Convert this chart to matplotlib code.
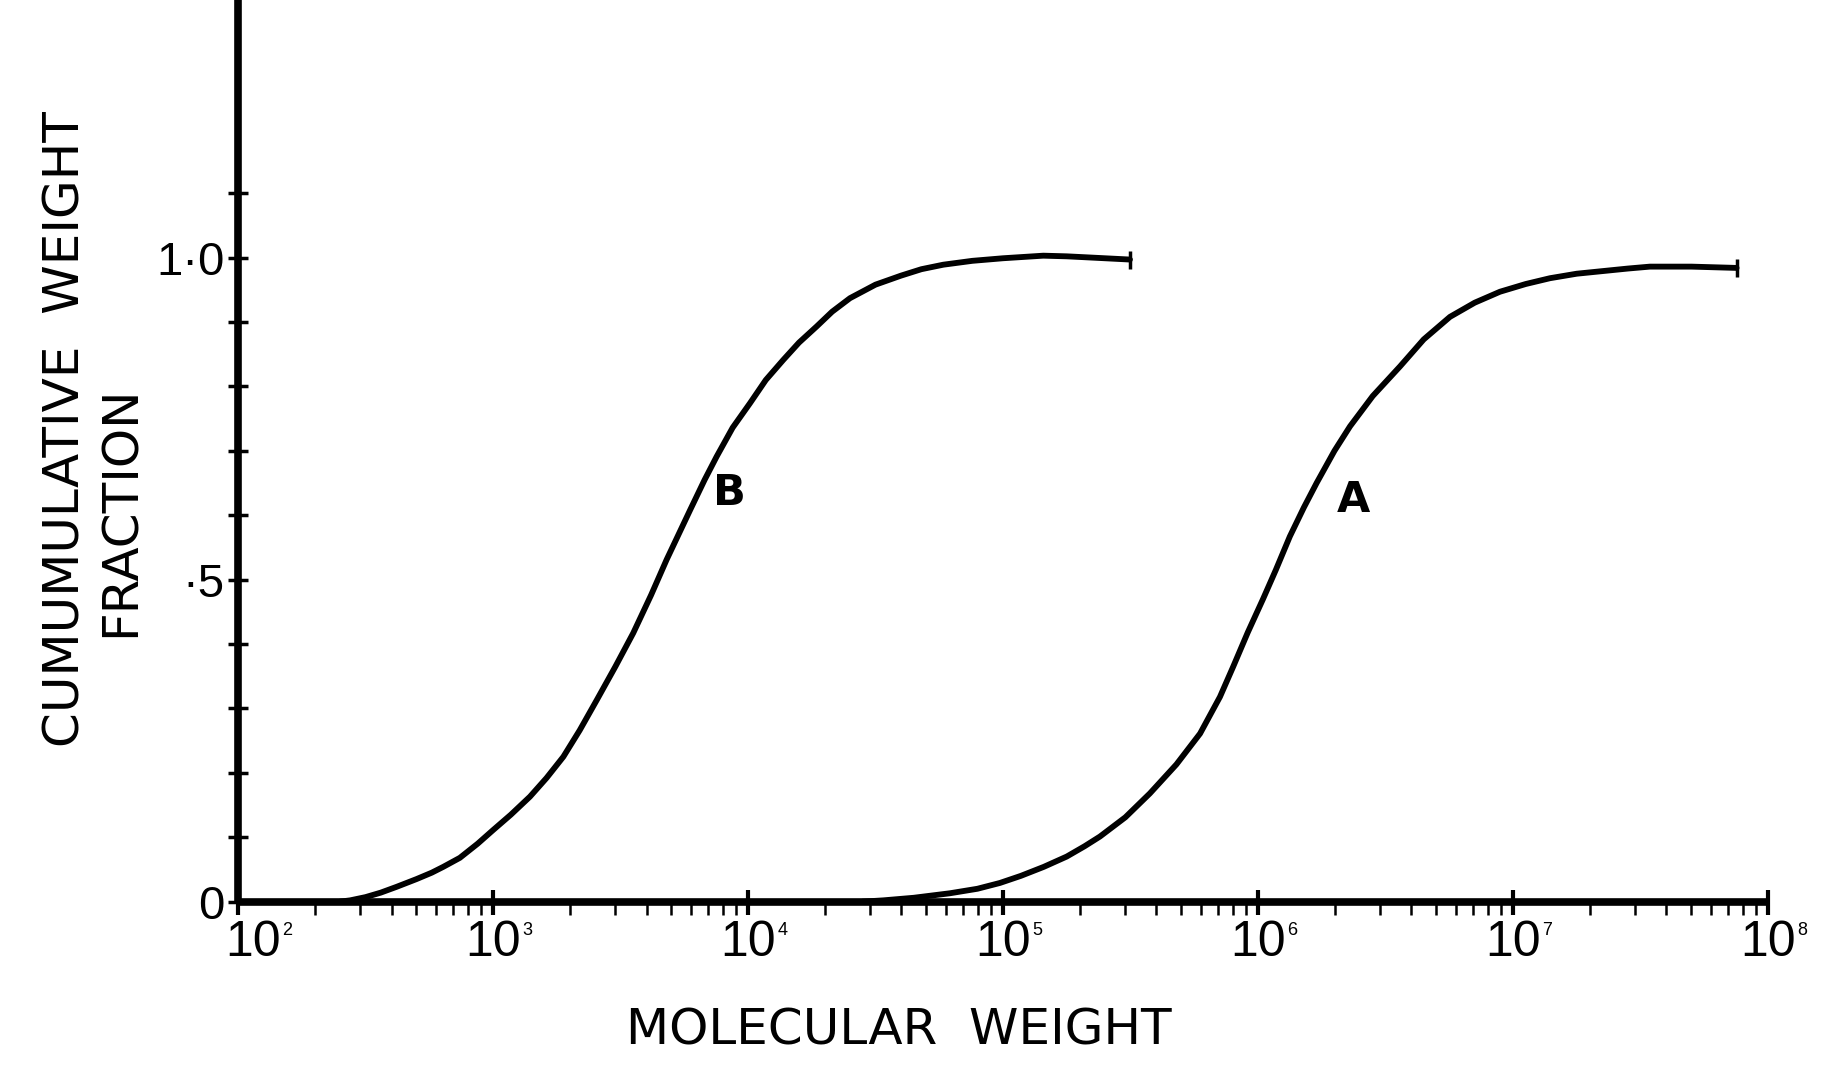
import numpy as np
import matplotlib
matplotlib.use("Agg")
import matplotlib.pyplot as plt
from matplotlib.ticker import FixedLocator, FixedFormatter, LogLocator, NullFormatter

plt.rcParams['font.family'] = ['DejaVu Sans']

# Kurve B (log10 des Molekulargewichts, kumulativer Gewichtsanteil)
log_mw_b = [2.40, 2.44, 2.50, 2.56, 2.622, 2.70, 2.76, 2.805, 2.87, 2.94,
            3.00, 3.07, 3.145, 3.21, 3.276, 3.34, 3.407, 3.48, 3.55, 3.62,
            3.681, 3.73, 3.773, 3.83, 3.877, 3.94, 4.008, 4.07, 4.138, 4.20,
            4.269, 4.33, 4.40, 4.50, 4.60, 4.68, 4.766, 4.88, 5.00, 5.158,
            5.25, 5.35, 5.498]
frac_b = [0.0, 0.002, 0.007, 0.014, 0.023, 0.035, 0.045, 0.054, 0.068, 0.090,
          0.111, 0.135, 0.163, 0.192, 0.225, 0.266, 0.313, 0.365, 0.417, 0.476,
          0.531, 0.572, 0.608, 0.655, 0.691, 0.736, 0.774, 0.810, 0.841, 0.868,
          0.893, 0.916, 0.937, 0.958, 0.972, 0.982, 0.989, 0.995, 0.999, 1.003,
          1.002, 1.000, 0.997]

# Kurve A
log_mw_a = [4.45, 4.531, 4.65, 4.792, 4.90, 4.988, 5.07, 5.16, 5.25, 5.32,
            5.38, 5.48, 5.576, 5.68, 5.773, 5.851, 5.903, 5.96, 6.02, 6.07,
            6.125, 6.18, 6.23, 6.30, 6.361, 6.45, 6.557, 6.65, 6.753, 6.85,
            6.949, 7.05, 7.145, 7.25, 7.35, 7.45, 7.537, 7.70, 7.877]
frac_a = [0.0, 0.002, 0.006, 0.013, 0.020, 0.029, 0.040, 0.054, 0.070, 0.086,
          0.101, 0.131, 0.168, 0.213, 0.261, 0.318, 0.365, 0.418, 0.470, 0.515,
          0.567, 0.612, 0.650, 0.700, 0.738, 0.785, 0.831, 0.873, 0.908, 0.930,
          0.947, 0.959, 0.968, 0.975, 0.979, 0.983, 0.986, 0.986, 0.984]

decades = [2, 3, 4, 5, 6, 7, 8]
y_ticks = [0.0, 0.1, 0.2, 0.3, 0.4, 0.5, 0.6, 0.7, 0.8, 0.9, 1.0, 1.1]
y_labels = ['0', '', '', '', '', '·5', '', '', '', '', '1·0', '']

mw_b = 10 ** np.array(log_mw_b)
mw_a = 10 ** np.array(log_mw_a)

fig = plt.figure(figsize=(18.42, 10.78), dpi=100)
ax = fig.add_axes([0.1292, 0.1636, 0.8306, 0.8364])

ax.plot(mw_b, frac_b, color='black', lw=4.2, solid_capstyle='round', solid_joinstyle='round')
ax.plot(mw_a, frac_a, color='black', lw=4.2, solid_capstyle='round', solid_joinstyle='round')
# kleine Endstriche
ax.plot(mw_b[-1], frac_b[-1], marker='|', ms=13, mew=2.5, color='black')
ax.plot(mw_a[-1], frac_a[-1], marker='|', ms=13, mew=2.5, color='black')

ax.text(10 ** 3.929, 0.635, 'B', fontsize=31, fontweight='bold', ha='center', va='center')
ax.text(10 ** 6.374, 0.624, 'A', fontsize=31, fontweight='bold', ha='center', va='center')

ax.set_xscale('log')
ax.set_xlim(1e2, 1e8)
ax.set_ylim(0, 1.40)

for s in ['top', 'right']:
    ax.spines[s].set_visible(False)
for s in ['left', 'bottom']:
    ax.spines[s].set_linewidth(5.5)
    ax.spines[s].set_capstyle('butt')

ax.xaxis.set_major_locator(FixedLocator([10.0 ** d for d in decades]))
ax.xaxis.set_minor_locator(LogLocator(base=10, subs=np.arange(2, 10), numticks=20))
ax.xaxis.set_minor_formatter(NullFormatter())
ax.tick_params(axis='x', which='major', direction='inout', length=18, width=3, labelbottom=False)
ax.tick_params(axis='x', which='minor', direction='out', length=9, width=1.8)

ax.yaxis.set_major_locator(FixedLocator(y_ticks))
ax.yaxis.set_major_formatter(FixedFormatter(y_labels))
ax.tick_params(axis='y', which='major', direction='inout', length=15, width=2.5, pad=2)
for t in ax.get_yticklabels():
    t.set_fontfamily('Liberation Sans')
    t.set_fontsize(34)

# x-Beschriftung 10^n mit kleinem Exponenten
for d in decades:
    shift = 11 if d == 2 else 0
    ax.annotate('10', xy=(10.0 ** d, 0), xycoords=('data', 'axes fraction'),
                xytext=(shift, -13), textcoords='offset points',
                ha='center', va='top', fontsize=36, family='Liberation Sans')
    ax.annotate(str(d), xy=(10.0 ** d, 0), xycoords=('data', 'axes fraction'),
                xytext=(shift + 21, -15), textcoords='offset points',
                ha='left', va='top', fontsize=13, family='Liberation Sans')

fig.text(0.488, 0.0445, 'MOLECULAR  WEIGHT', fontsize=36, ha='center', va='center')
fig.text(0.0353, 0.602, 'CUMUMULATIVE  WEIGHT', fontsize=36, ha='center', va='center', rotation=90)
fig.text(0.0657, 0.526, 'FRACTION', fontsize=36, ha='center', va='center', rotation=90)

fig.savefig('out.png', dpi=100, facecolor='white')
